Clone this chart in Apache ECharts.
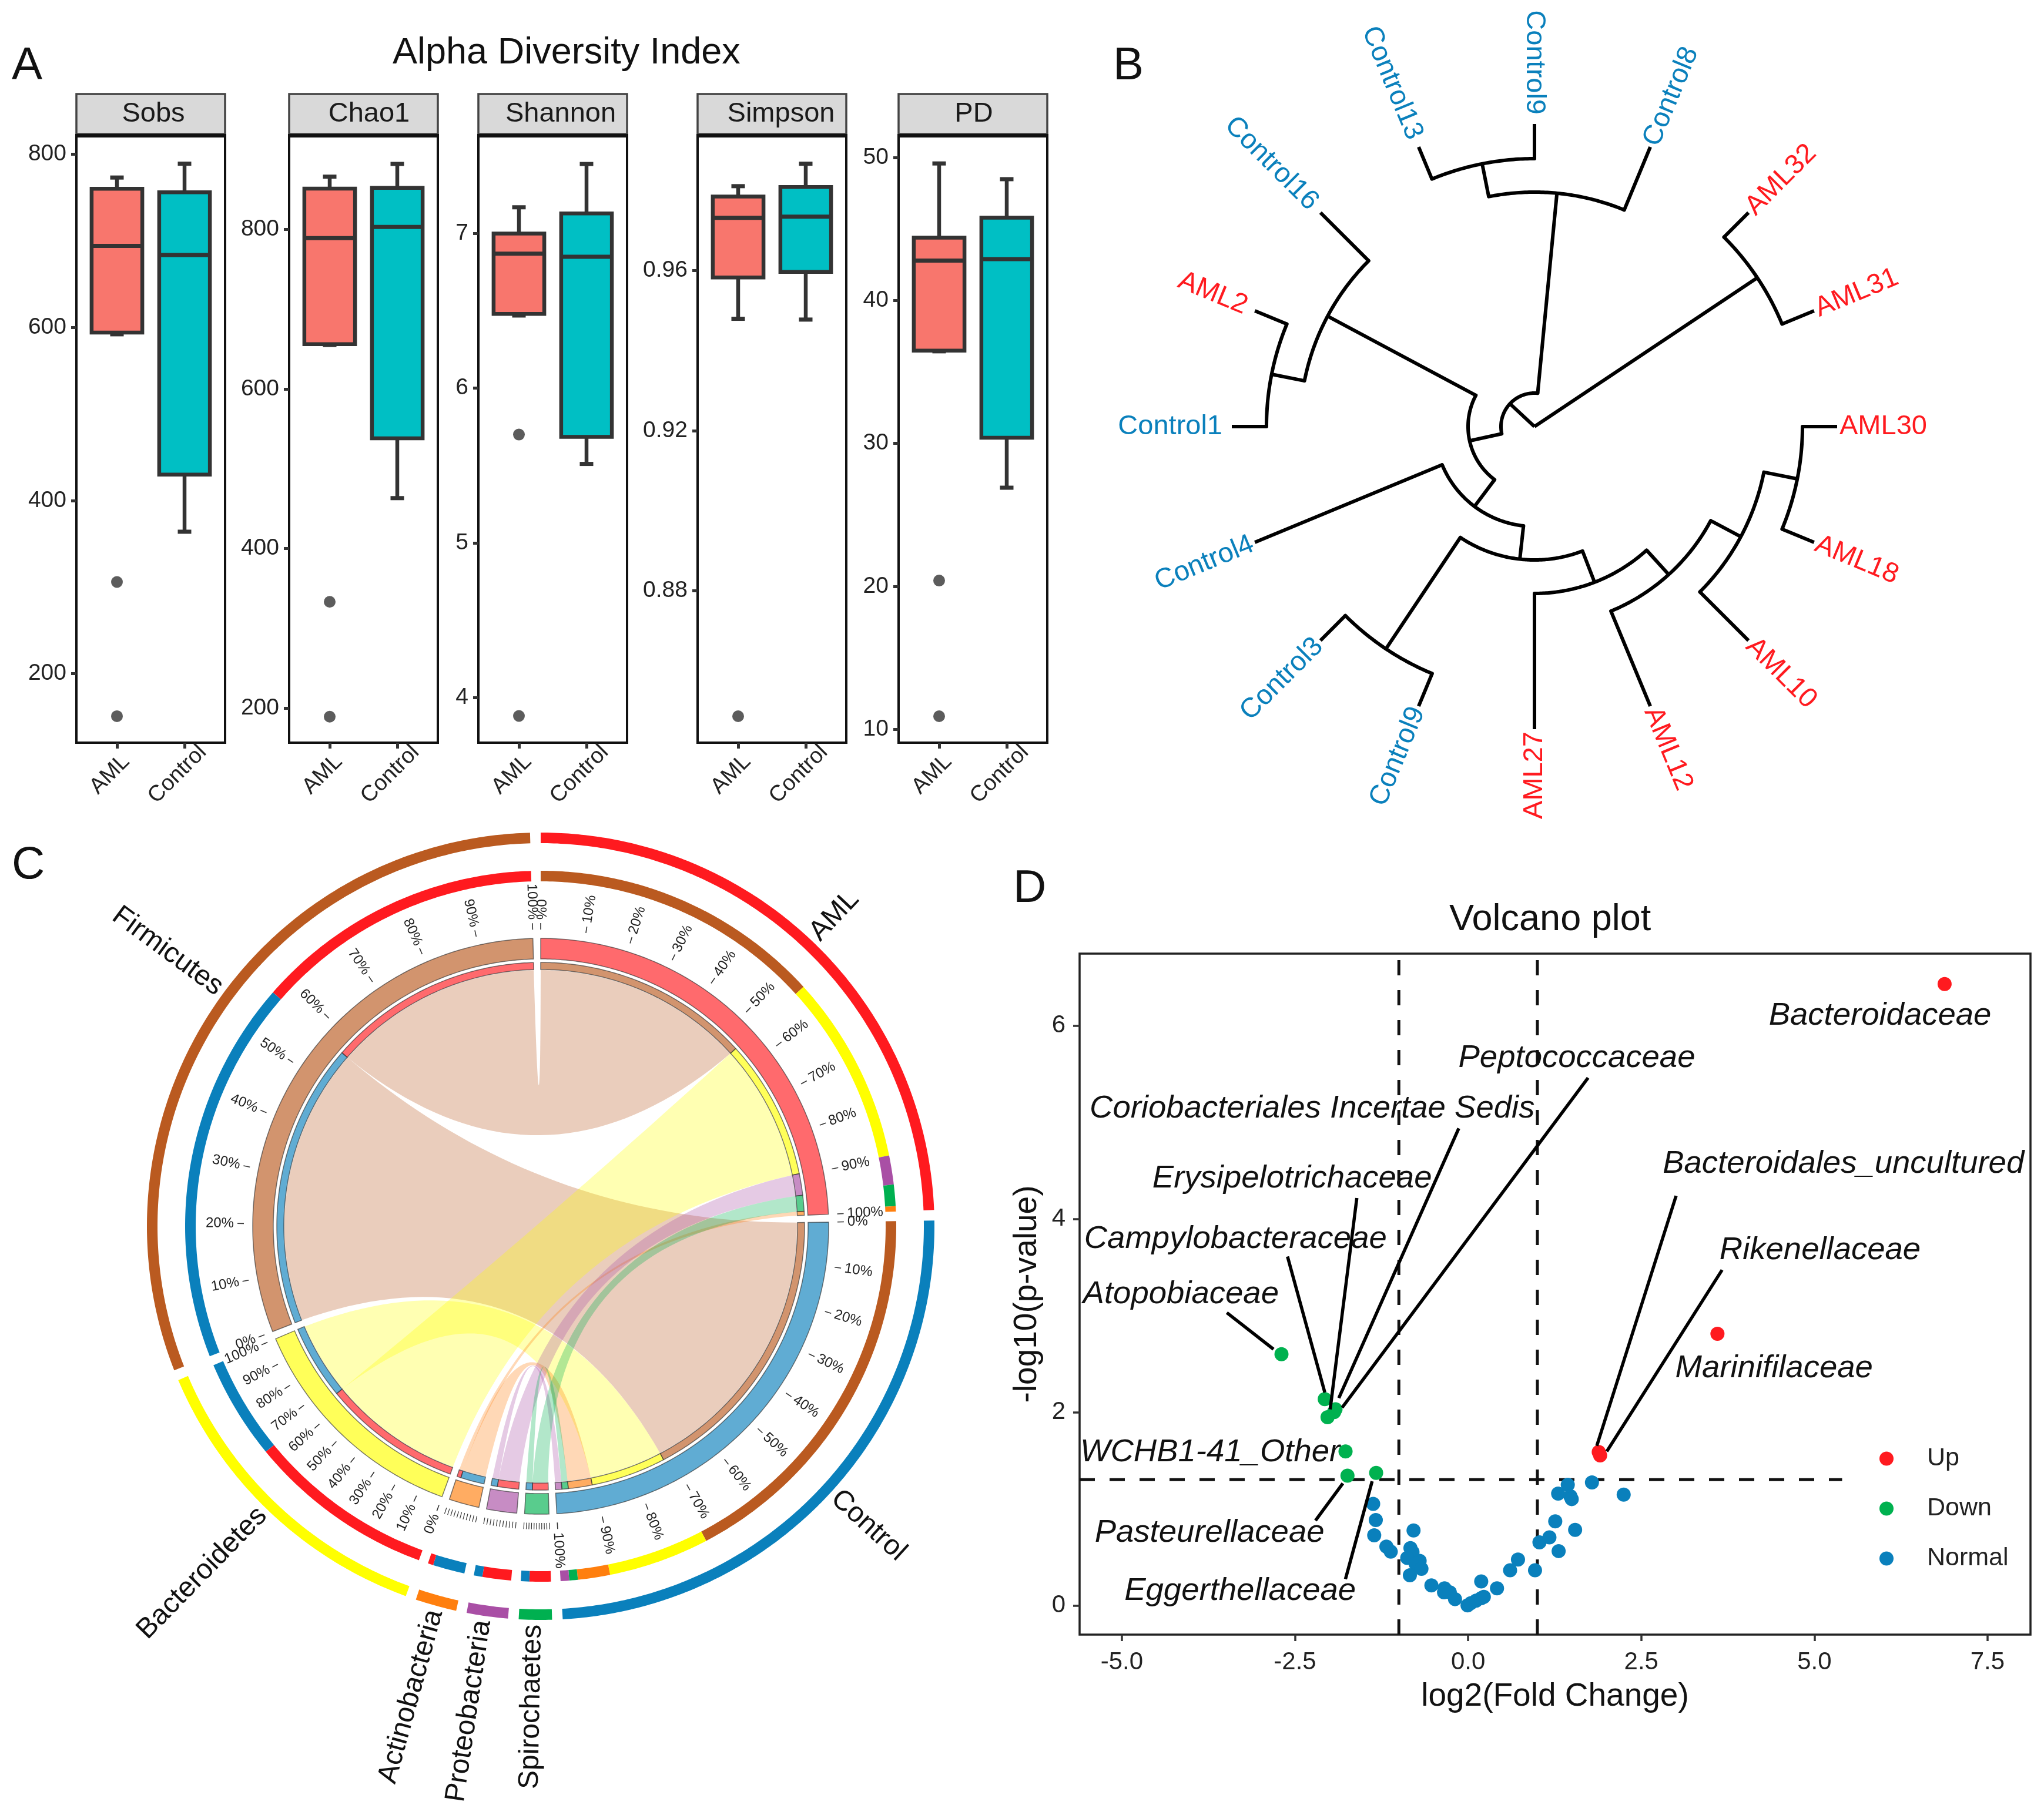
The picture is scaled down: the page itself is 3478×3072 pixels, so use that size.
<!DOCTYPE html>
<html><head><meta charset="utf-8">
<style>html,body{margin:0;padding:0;background:#fff}#c{width:3478px;height:3072px}</style>
<script src="https://cdn.jsdelivr.net/npm/echarts@6/dist/echarts.min.js"></script>
</head><body><div id="c"></div>
<script>
const FONT='"Liberation Sans", Arial, sans-serif';
// ---------- Panel A
const groupNames=['AML','Control'];
const facetNames=['Sobs','Chao1','Shannon','Simpson','PD'];
// [low whisker, Q1, median, Q3, high whisker]
const sobsStats=[[592,594,694,760,773],[364,430,683.5,756,789]];
const chao1Stats=[[655,656,789,851,866],[463,538,803,852,882]];
const shannonStats=[[6.47,6.48,6.87,7.0,7.17],[5.51,5.685,6.85,7.13,7.45]];
const simpsonStats=[[0.9479,0.9582,0.9731,0.9784,0.981],[0.9477,0.9596,0.9734,0.9808,0.9866]];
const pdStats=[[36.45,36.5,42.8,44.4,49.6],[26.9,30.4,42.9,45.8,48.5]];
const sobsOutliers=[306,151];
const chao1Outliers=[333,189];
const shannonOutliers=[5.70,3.88];
const simpsonOutliers=[0.8487];
const pdOutliers=[20.4,10.9];
const sobsTicks=[200,400,600,800];
const chao1Ticks=[200,400,600,800];
const shannonTicks=[4,5,6,7];
const simpsonTicks=[0.88,0.92,0.96];
const pdTicks=[10,20,30,40,50];
const facetStats=[sobsStats,chao1Stats,shannonStats,simpsonStats,pdStats];
const facetOutliers=[sobsOutliers,chao1Outliers,shannonOutliers,simpsonOutliers,pdOutliers];
const facetTicks=[sobsTicks,chao1Ticks,shannonTicks,simpsonTicks,pdTicks];
const facetRanges=[[120.4,820.6],[156.4,916.6],[3.707,7.629],[0.8421,0.99344],[9.05,51.5]];
const facetLefts=[130,492,814,1187,1529];
const stripLabelCenters=[261,628,954,1329,1657];
const FACET_W=253, FACET_TOP=232, FACET_H=1032;
const boxColors=['#F8766D','#00BFC4'];

// ---------- Panel B
const treeLeaves=['Control9','Control8','AML32','AML31','AML30','AML18','AML10','AML12','AML27','Control9','Control3','Control4','Control1','AML2','Control16','Control13'];
const leafAngles=[90,67.5,45,22.5,0,-22.5,-45,-67.5,-90,-112.5,-135,-157.5,180,157.5,135,112.5];
const leafBaseRadii=[456,399,456,456,456,456,398,340,284,455,455,170,456,456,399,456];
const LEAF_R=515;
// [inner radius, outer radius, angle]
const treeStems=[[398,456,-11.25],[342,398,-28.1],[284,342,-47.8],[227,284,-68.9],[227,455,-123.75],[170,227,-96.3],[113,170,-126.9],[399,456,168.75],[113,399,151.9],[57,113,192.4],[0,57,137],[0,456,33.75],[57,399,84.5],[399,456,101.25]];
// [radius, from angle, to angle]
const treeArcs=[[456,-22.5,0],[398,-45,-11.25],[340,-67.5,-28.1],[284,-90,-47.8],[227,-123.75,-68.9],[455,-135,-112.5],[170,-157.5,-96.3],[113,151.9,233.1],[456,157.5,180],[399,135,168.75],[57,84.5,192.4],[456,22.5,45],[399,67.5,101.25],[456,90,112.5]];

// ---------- Panel C
const chordGroups=['AML','Control'];
const chordTaxa=['Spirochaetes','Proteobacteria','Actinobacteria','Bacteroidetes','Firmicutes'];
const amlAbundance=[4,5.4,1,35.2,54.4];
const controlAbundance=[1.6,1.6,6,18.8,72];
const sectorColors={AML:'#FF1A1F',Control:'#0A80BC',Spirochaetes:'#00B050',Proteobacteria:'#A94FA5',Actinobacteria:'#FF7F0E',Bacteroidetes:'#FFFF00',Firmicutes:'#BA5A20'};
const sectorLabelAngles={AML:46.6,Control:-42.4,Spirochaetes:-91.1,Proteobacteria:-98.4,Actinobacteria:-105.4,Bacteroidetes:-134.3,Firmicutes:143.6};
const percentLabels=['0%','10%','20%','30%','40%','50%','60%','70%','80%','90%','100%'];
const labelledSectors=['AML','Control','Bacteroidetes','Firmicutes'];

// ---------- Panel D
const upX=[6.88,3.60,1.886,1.906];
const upY=[6.43,2.81,1.587,1.552];
const downX=[-2.695,-2.07,-1.915,-1.935,-2.03,-1.77,-1.742,-1.328];
const downY=[2.60,2.134,2.03,2.0,1.948,1.593,1.343,1.372];
const normalX=[-1.371,-1.333,-1.356,-1.18,-1.117,-0.788,-0.833,-0.803,-0.879,-0.70,-0.758,-0.674,-0.841,-0.53,-0.341,-0.348,-0.265,-0.189,-0.008,0.04,0.114,0.189,0.227,0.189,0.417,0.606,0.72,0.966,1.03,1.174,1.307,1.258,1.545,1.30,1.439,1.477,1.496,1.788,2.246];
const normalY=[1.051,0.883,0.726,0.609,0.556,0.775,0.593,0.552,0.491,0.461,0.43,0.379,0.3125,0.207,0.177,0.136,0.136,0.065,0.0,0.024,0.049,0.248,0.089,0.075,0.177,0.363,0.475,0.363,0.653,0.704,0.562,0.87,0.781,1.157,1.248,1.13,1.10,1.272,1.146];
const volcanoNames=['Bacteroidaceae','Peptococcaceae','Coriobacteriales Incertae Sedis','Erysipelotrichaceae','Bacteroidales_uncultured','Campylobacteraceae','Rikenellaceae','Atopobiaceae','Marinifilaceae','WCHB1-41_Other','Pasteurellaceae','Eggerthellaceae'];
const volcanoNameX=[5.948,1.569,-2.252,-2.541,5.419,-3.359,5.082,-4.148,4.418,-3.725,-3.734,-3.292];
const volcanoNameY=[6.10,5.664,5.141,4.414,4.566,3.792,3.676,3.217,2.455,1.583,0.752,0.147];
const volcanoLeaders=[[-3.484,3.029,-2.81,2.651],[-2.608,3.61,-2.069,2.203],[-1.607,4.215,-1.992,2.029],[-0.135,4.936,-1.867,2.145],[1.732,5.459,-1.819,2.047],[3.003,4.238,1.858,1.651],[3.667,3.471,2.002,1.593],[-2.204,0.878,-1.809,1.262],[-1.771,0.273,-1.386,1.285]];
const volcanoRefLines=[[-1,-0.302,-1,6.744],[1,-0.302,1,6.744],[-5.61,1.301,5.4,1.301]];
const volcanoXTicks=[-5,-2.5,0,2.5,5,7.5];
const volcanoYTicks=[0,2,4,6];

// ---------- helpers
const norm=a=>((a%360)+360)%360;
function arcPts(api,r,a1,a2){
  const n=Math.max(2,Math.ceil(Math.abs(a2-a1)/0.5)), pts=[];
  for(let i=0;i<=n;i++) pts.push(api.coord([r,norm(a1+(a2-a1)*i/n)]));
  return pts;
}
function radialText(api,r,deg,text,size,color){
  const a=norm(deg), right=a<90||a>270;
  const rot=right?(a>180?a-360:a):a-180;
  const p=api.coord([r,a]);
  return {type:'text',x:p[0],y:p[1],rotation:rot*Math.PI/180,
    style:{text,fill:color,font:size+'px '+FONT,align:right?'left':'right',verticalAlign:'middle',textAlign:right?'left':'right',textVerticalAlign:'middle'}};
}
const grids=[],xAxes=[],yAxes=[],series=[],graphics=[];

// Panel A
facetNames.forEach((name,i)=>{
  const left=facetLefts[i];
  grids.push({left,top:FACET_TOP,width:FACET_W,height:FACET_H,show:true,backgroundColor:'#fff',borderColor:'#111',borderWidth:4});
  xAxes.push({gridIndex:i,type:'value',min:0.4,max:2.6,splitLine:{show:false},axisLine:{show:false,onZero:false},
    axisTick:{show:true,customValues:[1,2],length:10,lineStyle:{width:5,color:'#333'}},
    axisLabel:{customValues:[1,2],formatter:v=>groupNames[v-1],rotate:45,align:'center',verticalAlign:'middle',padding:[0,34,0,0],fontSize:38,color:'#222',fontFamily:FONT,margin:42}});
  yAxes.push({gridIndex:i,type:'value',min:facetRanges[i][0],max:facetRanges[i][1],splitLine:{show:false},axisLine:{show:false,onZero:false},
    axisTick:{show:true,customValues:facetTicks[i],length:9,lineStyle:{width:5,color:'#333'}},
    axisLabel:{customValues:facetTicks[i],fontSize:39,color:'#222',fontFamily:FONT,margin:17,formatter:v=>i===3?v.toFixed(2):String(v)}});
  series.push({type:'custom',coordinateSystem:'cartesian2d',xAxisIndex:i,yAxisIndex:i,silent:true,z:3,
    data:facetStats[i].map((s,k)=>[k+1].concat(s)),
    renderItem(params,api){
      const x=api.value(0),k=params.dataIndex;
      const P=(dx,v)=>api.coord([x+dx,v]);
      const low=api.value(1),q1=api.value(2),med=api.value(3),q3=api.value(4),high=api.value(5);
      const tl=P(-0.375,q3),br=P(0.375,q1);
      const ln=(a,b,w)=>({type:'line',shape:{x1:a[0],y1:a[1],x2:b[0],y2:b[1]},style:{stroke:'#333',lineWidth:w}});
      return {type:'group',children:[
        ln(P(0,high),P(0,q3),6.5),ln(P(0,low),P(0,q1),6.5),
        ln(P(-0.1,high),P(0.1,high),7),ln(P(-0.1,low),P(0.1,low),7),
        {type:'rect',shape:{x:tl[0],y:tl[1],width:br[0]-tl[0],height:br[1]-tl[1]},style:{fill:boxColors[k],stroke:'#333',lineWidth:6.5}},
        ln(P(-0.375,med),P(0.375,med),7)
      ]};
    }});
  series.push({type:'scatter',xAxisIndex:i,yAxisIndex:i,silent:true,symbolSize:20,itemStyle:{color:'#333'},z:3,
    data:facetOutliers[i].map(v=>[1,v])});
  graphics.push({type:'rect',shape:{x:left,y:160,width:FACET_W,height:68},style:{fill:'#D9D9D9',stroke:'#444',lineWidth:3.5}});
  graphics.push({type:'rect',z:10,shape:{x:left-2,y:228,width:FACET_W+4,height:6},style:{fill:'#111'}});
  graphics.push({type:'text',x:stripLabelCenters[i],y:194,style:{text:name,fill:'#1a1a1a',font:'47px '+FONT,textAlign:'center',textVerticalAlign:'middle',align:'center',verticalAlign:'middle'}});
});

// Panel B
const TREE_W=6;
series.push({type:'custom',coordinateSystem:'polar',polarIndex:0,silent:true,
  data:treeStems.map(s=>[s[1],norm(s[2])]),
  renderItem(params,api){const s=treeStems[params.dataIndex];
    return {type:'polyline',shape:{points:[api.coord([s[0],norm(s[2])]),api.coord([s[1],norm(s[2])])]},style:{stroke:'#000',lineWidth:TREE_W,fill:null}};}});
series.push({type:'custom',coordinateSystem:'polar',polarIndex:0,silent:true,
  data:treeArcs.map(s=>[s[0],norm(s[1])]),
  renderItem(params,api){const s=treeArcs[params.dataIndex];
    return {type:'polyline',shape:{points:arcPts(api,s[0],s[1],s[2])},style:{stroke:'#000',lineWidth:TREE_W,fill:null,lineJoin:'round',lineCap:'round'}};}});
series.push({type:'custom',coordinateSystem:'polar',polarIndex:0,silent:true,
  data:leafAngles.map((a,i)=>[LEAF_R,norm(a)]),
  renderItem(params,api){const i=params.dataIndex,a=leafAngles[i],n=treeLeaves[i];
    const col=n.startsWith('AML')?'#FF1A1F':'#0A80BC';
    const gap=(norm(a)>=90&&norm(a)<=180)?16:4;
    const base=leafBaseRadii[i];
    return {type:'group',children:[
      {type:'polyline',shape:{points:[api.coord([base,norm(a)]),api.coord([LEAF_R,norm(a)])]},style:{stroke:'#000',lineWidth:TREE_W,fill:null}},
      radialText(api,LEAF_R+gap,a,n,47,col)]};
  }});

// Panel C layout from the abundances
const GAP=1.55, GROUP_UNIT=0.8762;
const sectorNames=chordGroups.concat(chordTaxa);
const abund={AML:amlAbundance,Control:controlAbundance};
const totals={AML:100,Control:100};
chordTaxa.forEach((t,i)=>totals[t]=amlAbundance[i]+controlAbundance[i]);
const TAXON_UNIT=(360-GAP*sectorNames.length-200*GROUP_UNIT)/200;
const unitOf=n=>chordGroups.includes(n)?GROUP_UNIT:TAXON_UNIT;
const sectorSpan={};let cursor=90;
sectorNames.forEach(n=>{sectorSpan[n]=[cursor,cursor-totals[n]*unitOf(n)];cursor=sectorSpan[n][1]-GAP;});
const pieces={};
function alloc(sector,items){
  let a=sectorSpan[sector][0];const u=unitOf(sector);
  items.slice().sort((p,q)=>q.v-p.v).forEach(it=>{
    pieces[sector+'|'+it.partner]=[a,a-it.v*u,it.partner];a-=it.v*u;});
}
chordGroups.forEach(g=>alloc(g,chordTaxa.map((t,i)=>({partner:t,v:abund[g][i]}))));
chordTaxa.forEach((t,i)=>alloc(t,chordGroups.map(g=>({partner:g,v:abund[g][i]}))));
const segs=[];
sectorNames.forEach(n=>{
  const sp=sectorSpan[n];
  segs.push({r0:652,r1:670,a1:sp[0],a2:sp[1],fill:sectorColors[n],op:1});
  segs.push({r0:455,r1:490,a1:sp[0],a2:sp[1],fill:sectorColors[n],op:0.65,stroke:'#333'});
  Object.keys(pieces).filter(k=>k.startsWith(n+'|')).forEach(k=>{
    const p=pieces[k];
    segs.push({r0:587,r1:605,a1:p[0],a2:p[1],fill:sectorColors[p[2]],op:1});
    segs.push({r0:437,r1:449,a1:p[0],a2:p[1],fill:sectorColors[p[2]],op:0.65,stroke:'#333'});
  });
});
const links=[];
['Firmicutes','Bacteroidetes','Actinobacteria','Proteobacteria','Spirochaetes'].forEach(t=>{
  chordGroups.forEach(g=>links.push({color:sectorColors[t],a:pieces[g+'|'+t],b:pieces[t+'|'+g]}));
});
const CHORD_R=436;
series.push({type:'custom',coordinateSystem:'polar',polarIndex:1,silent:true,z:2,
  data:links.map(l=>[CHORD_R,norm(l.a[0])]),
  renderItem(params,api){
    const l=links[params.dataIndex];
    const edge=(a,b)=>{ // quadratic ribbon edge from angle a to angle b
      let span=Math.abs(norm(a-b)); if(span>180) span=360-span;
      const half=span/2*Math.PI/180;
      const p0=api.coord([CHORD_R,norm(a)]),p2=api.coord([CHORD_R,norm(b)]);
      const mx=(Math.sin(a*Math.PI/180)+Math.sin(b*Math.PI/180)),my=(Math.cos(a*Math.PI/180)+Math.cos(b*Math.PI/180));
      const bis=Math.atan2(mx,my)*180/Math.PI;
      const c=api.coord([44*Math.cos(half)*Math.cos(half),norm(bis)]);
      const out=[];
      for(let i=1;i<40;i++){const t=i/40,u=1-t;
        out.push([u*u*p0[0]+2*u*t*c[0]+t*t*p2[0],u*u*p0[1]+2*u*t*c[1]+t*t*p2[1]]);}
      return out;
    };
    const pts=[].concat(arcPts(api,CHORD_R,l.a[0],l.a[1]),edge(l.a[1],l.b[0]),arcPts(api,CHORD_R,l.b[0],l.b[1]),edge(l.b[1],l.a[0]));
    return {type:'polygon',shape:{points:pts},style:{fill:l.color,opacity:0.3}};
  }});
series.push({type:'custom',coordinateSystem:'polar',polarIndex:1,silent:true,z:3,
  data:segs.map(s=>[s.r1,norm(s.a1)]),
  renderItem(params,api){
    const s=segs[params.dataIndex];
    const pts=arcPts(api,s.r1,s.a1,s.a2).concat(arcPts(api,s.r0,s.a2,s.a1));
    const style={fill:s.fill,opacity:s.op};
    if(s.stroke){style.stroke=s.stroke;style.lineWidth=1.5;}
    return {type:'polygon',shape:{points:pts},style};
  }});
const tickItems=[];
sectorNames.forEach(n=>{
  const sp=sectorSpan[n];
  percentLabels.forEach((lab,i)=>tickItems.push({a:sp[0]+(sp[1]-sp[0])*i/10,lab:labelledSectors.includes(n)?lab:null}));
});
series.push({type:'custom',coordinateSystem:'polar',polarIndex:1,silent:true,z:3,
  data:tickItems.map(t=>[516,norm(t.a)]),
  renderItem(params,api){
    const t=tickItems[params.dataIndex],a=norm(t.a);
    const ch=[{type:'polyline',shape:{points:[api.coord([505,a]),api.coord([516,a])]},style:{stroke:'#333',lineWidth:t.lab?1.6:1.2,fill:null}}];
    if(t.lab) ch.push(radialText(api,522,t.a,t.lab,24,'#222'));
    return {type:'group',children:ch};
  }});
series.push({type:'custom',coordinateSystem:'polar',polarIndex:1,silent:true,z:3,
  data:sectorNames.map(n=>[678,norm(sectorLabelAngles[n])]),
  renderItem(params,api){
    const n=sectorNames[params.dataIndex];
    return radialText(api,678,sectorLabelAngles[n],n,48,'#111');
  }});

// Panel D
const VI=facetNames.length;
grids.push({left:1837,top:1623,width:1618,height:1159,show:true,backgroundColor:'#fff',borderColor:'#222',borderWidth:3.5});
xAxes.push({gridIndex:VI,type:'value',min:-5.61,max:8.12,splitLine:{show:false},axisLine:{show:false,onZero:false},
  name:'log2(Fold Change)',nameLocation:'middle',nameGap:78,nameTextStyle:{fontSize:55,color:'#111',fontFamily:FONT},
  axisTick:{show:true,customValues:volcanoXTicks,length:11,lineStyle:{width:3.5,color:'#333'}},
  axisLabel:{customValues:volcanoXTicks,formatter:v=>v.toFixed(1),fontSize:42,color:'#222',fontFamily:FONT,margin:26}});
yAxes.push({gridIndex:VI,type:'value',min:-0.302,max:6.744,splitLine:{show:false},axisLine:{show:false,onZero:false},
  name:'-log10(p-value)',nameLocation:'middle',nameGap:62,nameTextStyle:{fontSize:55,color:'#111',fontFamily:FONT},
  axisTick:{show:true,customValues:volcanoYTicks,length:11,lineStyle:{width:3.5,color:'#333'}},
  axisLabel:{customValues:volcanoYTicks,fontSize:42,color:'#222',fontFamily:FONT,margin:24}});
const pair=(xs,ys)=>xs.map((x,i)=>[x,ys[i]]);
series.push({type:'custom',coordinateSystem:'cartesian2d',xAxisIndex:VI,yAxisIndex:VI,silent:true,z:2,
  data:volcanoRefLines,
  renderItem(p,api){const a=api.coord([api.value(0),api.value(1)]),b=api.coord([api.value(2),api.value(3)]);
    return {type:'line',shape:{x1:a[0],y1:a[1],x2:b[0],y2:b[1]},style:{stroke:'#111',lineWidth:5,lineDash:[26,25]}};}});
[['Normal',normalX,normalY,'#0A80BC'],['Down',downX,downY,'#00B14F'],['Up',upX,upY,'#FF1A1F']].forEach(s=>{
  series.push({name:s[0],type:'scatter',xAxisIndex:VI,yAxisIndex:VI,silent:true,symbolSize:24,itemStyle:{color:s[3],opacity:1},z:3,data:pair(s[1],s[2])});
});
series.push({type:'custom',coordinateSystem:'cartesian2d',xAxisIndex:VI,yAxisIndex:VI,silent:true,z:4,
  data:volcanoLeaders,
  renderItem(p,api){const a=api.coord([api.value(0),api.value(1)]),b=api.coord([api.value(2),api.value(3)]);
    return {type:'line',shape:{x1:a[0],y1:a[1],x2:b[0],y2:b[1]},style:{stroke:'#000',lineWidth:5.5}};}});
series.push({type:'custom',coordinateSystem:'cartesian2d',xAxisIndex:VI,yAxisIndex:VI,silent:true,z:5,
  data:volcanoNames.map((n,i)=>[volcanoNameX[i],volcanoNameY[i]]),
  renderItem(p,api){const c=api.coord([api.value(0),api.value(1)]);
    return {type:'text',x:c[0],y:c[1],style:{text:volcanoNames[p.dataIndex],fill:'#111',font:'italic 54.5px '+FONT,textAlign:'center',textVerticalAlign:'middle',align:'center',verticalAlign:'middle'}};}});

const panelTitle=(text,left,top,size)=>({text,left,top,textAlign:'left',padding:0,textStyle:{fontSize:size,fontWeight:'normal',color:'#111',fontFamily:FONT}});
const chart=echarts.init(document.getElementById('c'),null,{renderer:'canvas',devicePixelRatio:1,width:3478,height:3072});
chart.setOption({
  backgroundColor:'#fff',animation:false,
  title:[panelTitle('A',20,74,78),panelTitle('B',1894,74,78),panelTitle('C',20,1434,78),panelTitle('D',1724,1474,78),
    panelTitle('Alpha Diversity Index',668,59,63),panelTitle('Volcano plot',2466,1534,63)],
  legend:{data:['Up','Down','Normal'],orient:'vertical',left:3193,top:2456,itemWidth:24,itemHeight:24,itemGap:42,icon:'circle',
    textStyle:{fontSize:43,color:'#222',fontFamily:FONT,padding:[0,0,0,52]},selectedMode:false},
  grid:grids,xAxis:xAxes,yAxis:yAxes,
  polar:[{center:[2611,726],radius:900},{center:[920,2087],radius:900}],
  angleAxis:[{polarIndex:0,type:'value',min:0,max:360,startAngle:0,clockwise:false,show:false},{polarIndex:1,type:'value',min:0,max:360,startAngle:0,clockwise:false,show:false}],
  radiusAxis:[{polarIndex:0,type:'value',min:0,max:900,show:false},{polarIndex:1,type:'value',min:0,max:900,show:false}],
  graphic:{elements:graphics},
  series
});
</script></body></html>
